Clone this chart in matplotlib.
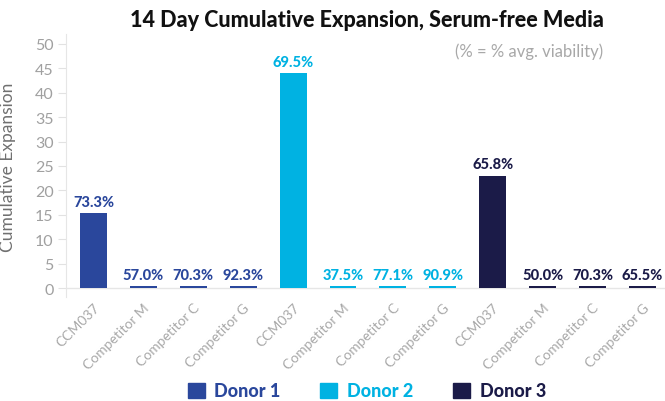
#!/usr/bin/env python3
"""14 day cumulative expansion bar chart, serum-free media."""

import matplotlib
matplotlib.use("Agg")
import matplotlib.pyplot as plt
from matplotlib.patches import Patch

plt.rcParams["font.family"] = ["Lato", "DejaVu Sans"]

products = ["CCM037", "Competitor M", "Competitor C", "Competitor G"]
donors = ["Donor 1", "Donor 2", "Donor 3"]
expansion = [
    [15.3, 0.4, 0.4, 0.4],
    [44.0, 0.4, 0.4, 0.4],
    [23.0, 0.4, 0.4, 0.4],
]
viability = [
    ["73.3%", "57.0%", "70.3%", "92.3%"],
    ["69.5%", "37.5%", "77.1%", "90.9%"],
    ["65.8%", "50.0%", "70.3%", "65.5%"],
]
colors = ["#2A479C", "#00B2E2", "#1B1B48"]
GRAY = "#A8A8A8"

fig = plt.figure(figsize=(6.65, 4.02), dpi=100)
ax = fig.add_axes([0.0992, 0.2587, 0.9008, 0.6542])

labels = []
for d, (vals, pcts, c) in enumerate(zip(expansion, viability, colors)):
    xs = [d * len(products) + i for i in range(len(products))]
    ax.bar(xs, vals, width=0.54, color=c, zorder=2)
    for x, v, p in zip(xs, vals, pcts):
        ax.text(x, v + 0.9, p, ha="center", va="bottom", color=c,
                fontsize=10.5, fontweight="black")
    labels += products

ax.set_xticks(range(len(labels)))
ax.set_xticklabels(labels, rotation=45, ha="right", rotation_mode="anchor",
                   color=GRAY, fontsize=10)
ax.tick_params(axis="x", length=0, pad=3)
ax.set_xlim(-0.55, 11.45)
ax.set_ylim(-1.8, 52.0)
ax.set_yticks(range(0, 51, 5))
ax.tick_params(axis="y", colors="#E2E2E2", labelcolor="#A0A0A0", labelsize=11.5,
               length=6, width=0.8, pad=3)
ax.axhline(0, color="#E6E6E6", lw=1, zorder=1)

for side in ["top", "right", "bottom"]:
    ax.spines[side].set_visible(False)
ax.spines["left"].set_color("#E6E6E6")

fig.text(8.5 / 665, 1 - 167 / 402, "Cumulative Expansion", rotation=90,
         ha="center", va="center", color="#707070", fontsize=12.5)
fig.text(367 / 665, 0.95, "14 Day Cumulative Expansion, Serum-free Media",
         ha="center", va="center", fontsize=15.5, fontweight="black", color="#111111")
fig.text(603 / 665, 0.871, "(% = % avg. viability)", ha="right", va="center",
         fontsize=12, color=GRAY)

handles = [Patch(color=c) for c in colors]
leg = fig.legend(handles, donors, loc="center", bbox_to_anchor=(367 / 665, 0.025),
                 ncol=3, frameon=False, handlelength=0.94, handleheight=0.94,
                 columnspacing=2.2, handletextpad=0.55,
                 prop={"weight": "black", "size": 13})
for txt, c in zip(leg.get_texts(), colors):
    txt.set_color(c)

fig.savefig("out.png", dpi=100)
